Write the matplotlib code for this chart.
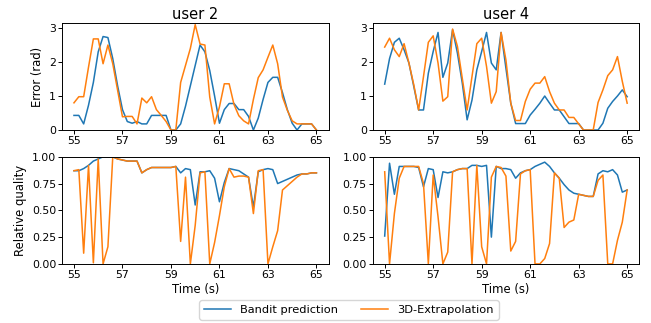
import numpy as np
import matplotlib
matplotlib.use("Agg")
import matplotlib.pyplot as plt

# time axis (0.2 s steps)
time = np.round(np.arange(55.0, 65.01, 0.2), 1)

# user 2 - angular error (rad)
err_bandit_u2 = [0.43, 0.43, 0.18, 0.73, 1.4, 2.3, 2.75, 2.72, 2.1, 1.3,
                 0.6, 0.25, 0.2, 0.25, 0.18, 0.18, 0.43, 0.43, 0.43, 0.43,
                 0.0, 0.0, 0.18, 0.7, 1.3, 1.9, 2.5, 2.3, 1.75, 1.0,
                 0.2, 0.6, 0.78, 0.78, 0.6, 0.6, 0.4, 0.0, 0.35, 0.9,
                 1.4, 1.55, 1.55, 1.1, 0.6, 0.2, 0.0, 0.18, 0.18, 0.18, 0.0]
err_extrap_u2 = [0.8, 0.98, 0.98, 1.85, 2.68, 2.68, 1.95, 2.5, 1.95, 1.17,
                 0.39, 0.4, 0.4, 0.18, 0.94, 0.8, 0.98, 0.6, 0.43, 0.25,
                 0.0, 0.0, 1.4, 1.9, 2.4, 3.1, 2.53, 2.5, 0.97, 0.18,
                 0.68, 1.36, 1.36, 0.75, 0.42, 0.27, 0.18, 0.9, 1.54, 1.77,
                 2.14, 2.5, 1.95, 0.97, 0.58, 0.27, 0.18, 0.18, 0.18, 0.18, 0.0]

# user 4 - angular error (rad)
err_bandit_u4 = [1.35, 2.1, 2.58, 2.7, 2.36, 1.97, 1.28, 0.59, 0.59, 1.67,
                 2.31, 2.87, 1.55, 1.97, 2.95, 2.26, 1.38, 0.3, 0.88, 1.77,
                 2.31, 2.87, 1.97, 1.77, 2.87, 1.82, 0.79, 0.19, 0.19, 0.19,
                 0.44, 0.61, 0.79, 1.0, 0.79, 0.59, 0.59, 0.39, 0.19, 0.19,
                 0.19, 0.0, 0.0, 0.0, 0.0, 0.2, 0.64, 0.84, 1.0, 1.18, 0.98]
err_extrap_u4 = [2.44, 2.7, 2.36, 2.16, 2.54, 1.97, 1.33, 0.59, 1.57, 2.58,
                 2.77, 1.97, 0.85, 0.98, 2.97, 2.46, 1.52, 0.59, 1.57, 2.54,
                 2.7, 1.87, 0.79, 1.13, 2.87, 2.06, 0.79, 0.28, 0.28, 0.84,
                 1.2, 1.38, 1.38, 1.57, 1.13, 0.79, 0.59, 0.59, 0.37, 0.37,
                 0.18, 0.0, 0.0, 0.0, 0.81, 1.18, 1.6, 1.77, 2.16, 1.43, 0.79]

# user 2 - relative quality
q_bandit_u2 = [0.87, 0.87, 0.89, 0.92, 0.96, 0.98, 1.0, 1.0, 1.0, 0.98,
               0.97, 0.96, 0.96, 0.96, 0.85, 0.88, 0.9, 0.9, 0.9, 0.9,
               0.9, 0.91, 0.85, 0.89, 0.88, 0.55, 0.86, 0.86, 0.87, 0.8,
               0.58, 0.76, 0.89, 0.88, 0.87, 0.84, 0.81, 0.53, 0.86, 0.88,
               0.89, 0.88, 0.75, 0.77, 0.79, 0.81, 0.83, 0.84, 0.84, 0.85, 0.85]
q_extrap_u2 = [0.87, 0.88, 0.1, 0.92, 0.01, 0.98, 0.0, 0.16, 1.0, 0.98,
               0.97, 0.96, 0.96, 0.96, 0.85, 0.88, 0.9, 0.9, 0.9, 0.9,
               0.9, 0.91, 0.21, 0.81, 0.0, 0.36, 0.85, 0.86, 0.0, 0.2,
               0.45, 0.72, 0.89, 0.81, 0.82, 0.82, 0.81, 0.47, 0.87, 0.88,
               0.0, 0.16, 0.31, 0.69, 0.73, 0.77, 0.81, 0.84, 0.84, 0.85, 0.85]

# user 4 - relative quality
q_bandit_u4 = [0.26, 0.94, 0.65, 0.91, 0.91, 0.91, 0.91, 0.9, 0.72, 0.89,
               0.88, 0.62, 0.86, 0.85, 0.86, 0.88, 0.89, 0.89, 0.92, 0.92,
               0.91, 0.92, 0.25, 0.91, 0.89, 0.89, 0.88, 0.8, 0.85, 0.87,
               0.88, 0.91, 0.93, 0.95, 0.91, 0.85, 0.8, 0.74, 0.69, 0.66,
               0.65, 0.64, 0.63, 0.63, 0.84, 0.87, 0.86, 0.88, 0.83, 0.67, 0.69]
q_extrap_u4 = [0.86, 0.0, 0.47, 0.8, 0.91, 0.91, 0.91, 0.91, 0.75, 0.0,
               0.83, 0.44, 0.0, 0.11, 0.86, 0.88, 0.89, 0.89, 0.0, 0.92,
               0.16, 0.0, 0.81, 0.91, 0.9, 0.82, 0.12, 0.21, 0.84, 0.87,
               0.88, 0.0, 0.0, 0.05, 0.19, 0.85, 0.8, 0.34, 0.39, 0.41,
               0.65, 0.64, 0.63, 0.63, 0.78, 0.83, 0.0, 0.0, 0.22, 0.39, 0.69]

users = ["user 2", "user 4"]
xticks = [55, 57, 59, 61, 63, 65]

plt.rcParams['xtick.labelsize'] = 7.8
plt.rcParams['ytick.labelsize'] = 7.8
plt.rcParams['axes.labelsize'] = 8.4
plt.rcParams['xtick.major.size'] = 2.6
plt.rcParams['ytick.major.size'] = 2.6
plt.rcParams['xtick.major.pad'] = 1.8
plt.rcParams['ytick.major.pad'] = 1.5
plt.rcParams['xtick.major.width'] = 0.7
plt.rcParams['ytick.major.width'] = 0.7
plt.rcParams['axes.linewidth'] = 0.7

fig, axes = plt.subplots(2, 2, figsize=(6.51, 3.23), dpi=100)
fig.subplots_adjust(left=0.095, right=0.982, top=0.929, bottom=0.183,
                    wspace=0.165, hspace=0.25)

err_data = [(err_bandit_u2, err_extrap_u2), (err_bandit_u4, err_extrap_u4)]
q_data = [(q_bandit_u2, q_extrap_u2), (q_bandit_u4, q_extrap_u4)]

for col in range(2):
    ax = axes[0, col]
    ax.plot(time, err_data[col][0], color='#1f77b4', lw=1.1, label='Bandit prediction')
    ax.plot(time, err_data[col][1], color='#ff7f0e', lw=1.1, label='3D-Extrapolation')
    ax.set_ylim(0, 3.15)
    ax.set_yticks([0, 1, 2, 3])
    ax.set_xlim(54.5, 65.5)
    ax.set_xticks(xticks)
    ax.set_title(users[col], fontsize=10.5, pad=3)

    ax = axes[1, col]
    ax.plot(time, q_data[col][0], color='#1f77b4', lw=1.1)
    ax.plot(time, q_data[col][1], color='#ff7f0e', lw=1.1)
    ax.set_ylim(0, 1)
    ax.set_yticks([0, 0.25, 0.5, 0.75, 1.0])
    ax.set_xlim(54.5, 65.5)
    ax.set_xticks(xticks)
    ax.set_xlabel("Time (s)", labelpad=2.5)

axes[0, 0].set_ylabel("Error (rad)", labelpad=3.5)
axes[1, 0].set_ylabel("Relative quality", labelpad=3.5)

handles, labels = axes[0, 0].get_legend_handles_labels()
fig.legend(handles, labels, loc='lower center', ncol=2,
           bbox_to_anchor=(0.536, -0.007), frameon=True, fontsize=8.2,
           columnspacing=2.0, handlelength=2.4)

fig.savefig("out.png", dpi=100)
